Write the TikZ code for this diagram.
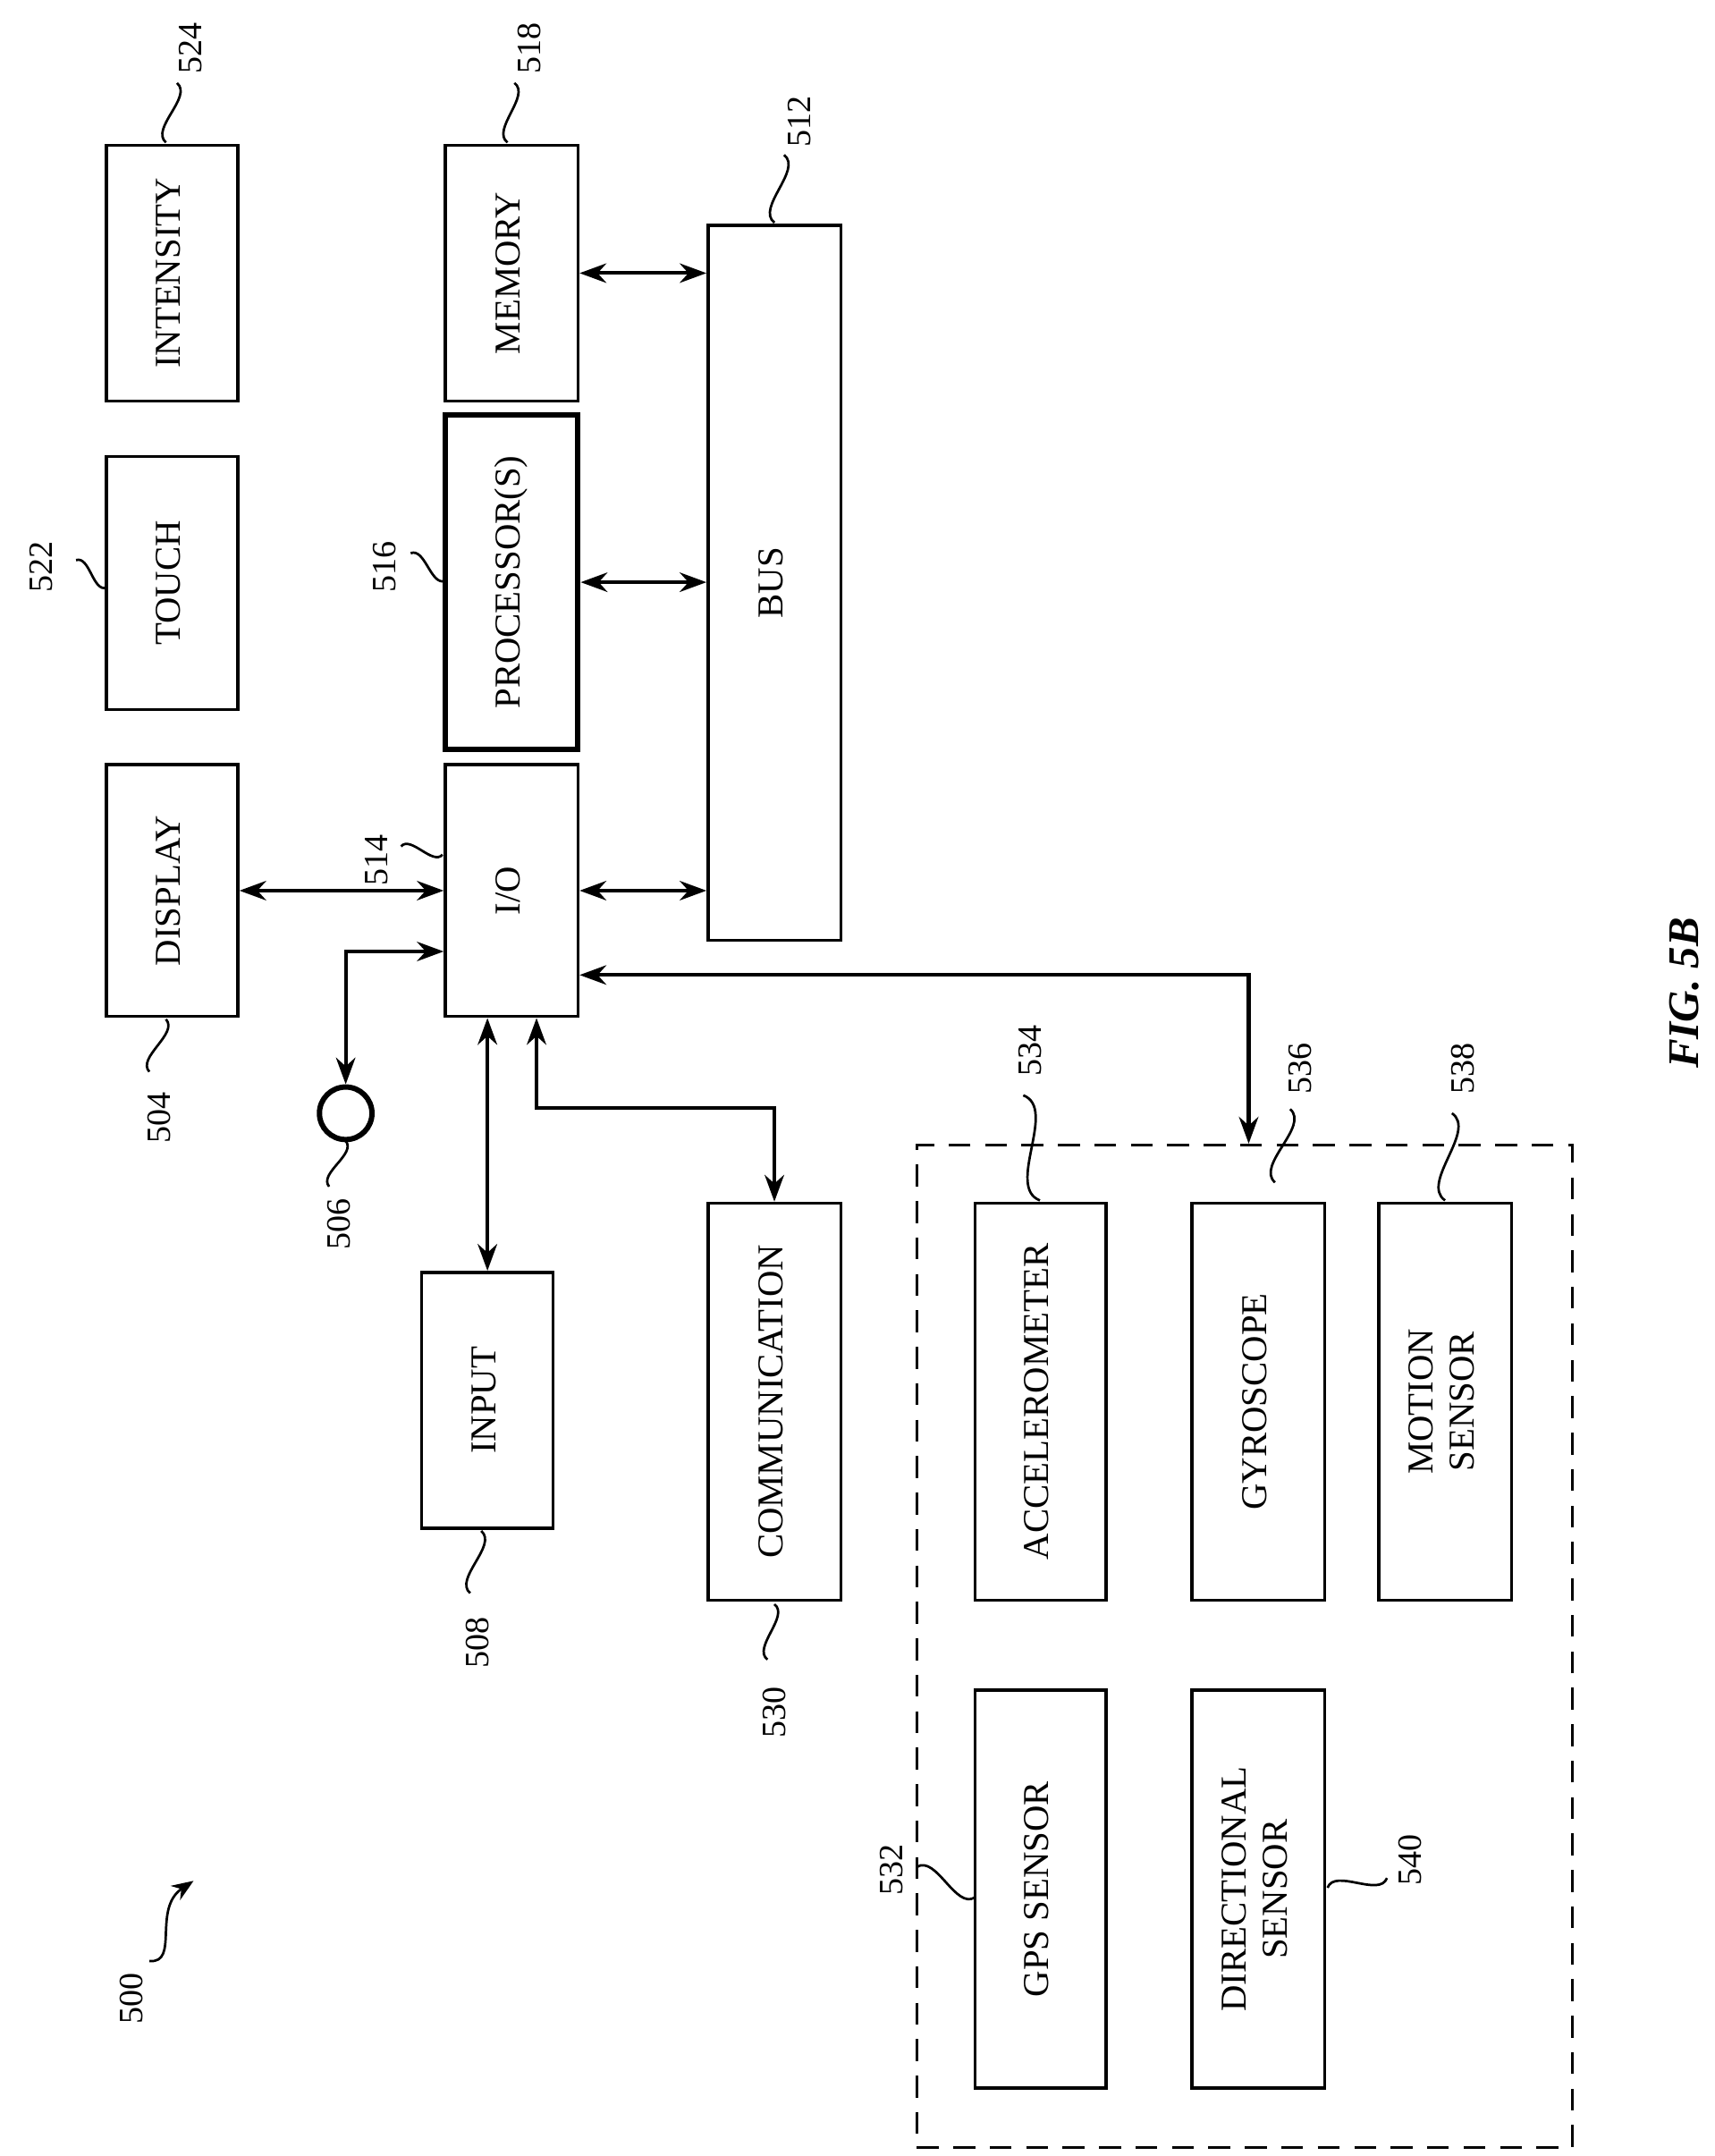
\documentclass[tikz,border=0pt]{standalone}
\usepackage{fontspec}
\setmainfont{Liberation Serif}
\usetikzlibrary{arrows.meta,calc}
\begin{document}
\begin{tikzpicture}[x=0.02cm,y=-0.02cm,
 box/.style={draw,line width=1.3pt,inner sep=0pt,font=\fontsize{15}{17}\selectfont},
 dbl/.style={line width=1.5pt,{Stealth[length=11pt,width=8pt]}-{Stealth[length=11pt,width=8pt]}},
 lab/.style={font=\fontsize{14}{16}\selectfont,rotate=90},
 sq/.style={line width=1pt}]
\useasboundingbox (0,0) rectangle (1240,1559);
\newcommand\rt[1]{\rotatebox{90}{\begin{tabular}{@{}c@{}}#1\end{tabular}}}
\newcommand\sqg[2]{\draw[sq] (#1) .. controls ($(#1)!0.35!60:(#2)$) and ($(#2)!0.35!60:(#1)$) .. (#2);}
\node[box,minimum width=1.9cm,minimum height=3.7cm] (int) at (124.5,197.5) {\rt{INTENSITY}};
\node[box,minimum width=1.9cm,minimum height=3.66cm] (touch) at (124.5,421.5) {\rt{TOUCH}};
\node[box,minimum width=1.9cm,minimum height=3.64cm] (disp) at (124.5,644) {\rt{DISPLAY}};
\node[box,minimum width=1.92cm,minimum height=3.7cm] (mem) at (370,197.5) {\rt{MEMORY}};
\node[box,line width=2.2pt,minimum width=1.92cm,minimum height=4.84cm] (proc) at (370,421) {\rt{PROCESSOR(S)}};
\node[box,minimum width=1.92cm,minimum height=3.64cm] (io) at (370,644) {\rt{I/O}};
\node[box,minimum width=1.92cm,minimum height=10.34cm] (bus) at (560,421.5) {\rt{BUS}};
\node[box,minimum width=1.9cm,minimum height=3.7cm] (inp) at (352.5,1012.5) {\rt{INPUT}};
\node[box,minimum width=1.92cm,minimum height=5.74cm] (comm) at (560,1013.5) {\rt{COMMUNICATION}};
\node[draw,dashed,line width=1.3pt,dash pattern=on 9pt off 6pt,minimum width=9.48cm,minimum height=14.5cm] (sens) at (900,1190.5) {};
\node[box,minimum width=1.9cm,minimum height=5.74cm] (acc) at (752.5,1013.5) {\rt{ACCELEROMETER}};
\node[box,minimum width=1.92cm,minimum height=5.74cm] (gyro) at (910,1013.5) {\rt{GYROSCOPE}};
\node[box,minimum width=1.92cm,minimum height=5.74cm] (mot) at (1045,1013.5) {\rt{MOTION\\SENSOR}};
\node[box,minimum width=1.9cm,minimum height=5.76cm] (gps) at (752.5,1366) {\rt{GPS SENSOR}};
\node[box,minimum width=1.92cm,minimum height=5.76cm] (dir) at (910,1366) {\rt{DIRECTIONAL\\SENSOR}};
\node[draw,circle,line width=2.2pt,minimum size=0.76cm,inner sep=0] (circ) at (250,805) {};
% connectors
\draw[dbl] (mem.east) -- (bus.west|-mem.east);
\draw[dbl] (proc.east) -- (bus.west|-proc.east);
\draw[dbl] (io.east) -- (bus.west|-io.east);
\draw[dbl] (disp.east) -- (io.west);
\draw[dbl] (circ.north) |- ($(io.west)+(0,44)$);
\draw[dbl] (inp.north) -- (inp.north|-io.south);
\draw[dbl] (comm.north) |- ($(io.south)+(18,65)$) -- ($(io.south)+(18,0)$);
\draw[dbl] ($(io.east)+(0,61)$) -| ($(sens.north)+(3,0)$);
% labels
\node[lab] (l524) at (138,35) {524}; \sqg{128,60}{120,103}
\node[lab] (l518) at (383,35) {518}; \sqg{372,60}{367,103}
\node[lab] (l512) at (578,88) {512}; \sqg{567,112}{560,161}
\node[lab] (l522) at (30,410) {522}; \sqg{55,405}{77,425}
\node[lab] (l516) at (278,410) {516}; \sqg{297,400}{322,420}
\node[lab] (l514) at (272,622) {514}; \sqg{290,612}{320,618}
\node[lab] (l504) at (115,808) {504}; \sqg{108,775}{120,737}
\node[lab] (l506) at (245,885) {506}; \sqg{238,858}{250,825}
\node[lab] (l508) at (345,1188) {508}; \sqg{340,1152}{348,1107}
\node[lab] (l530) at (560,1238) {530}; \sqg{555,1200}{560,1160}
\node[lab] (l534) at (745,760) {534}; \sqg{740,792}{752,868}
\node[lab] (l536) at (940,773) {536}; \sqg{933,802}{922,855}
\node[lab] (l538) at (1058,773) {538}; \sqg{1050,805}{1045,868}
\node[lab] (l532) at (645,1352) {532}; \sqg{663,1350}{705,1372}
\node[lab] (l540) at (1020,1345) {540}; \sqg{1003,1358}{960,1365}
\node[lab] (l500) at (95,1445) {500};
\draw[sq,-{Stealth[length=9pt,width=7pt]}] (108,1418) .. controls (130,1420) and (110,1380) .. (140,1360);
\node[rotate=90,font=\fontsize{18}{20}\selectfont\bfseries\itshape] (fig) at (1218,718) {FIG. 5B};
\end{tikzpicture}
\end{document}
